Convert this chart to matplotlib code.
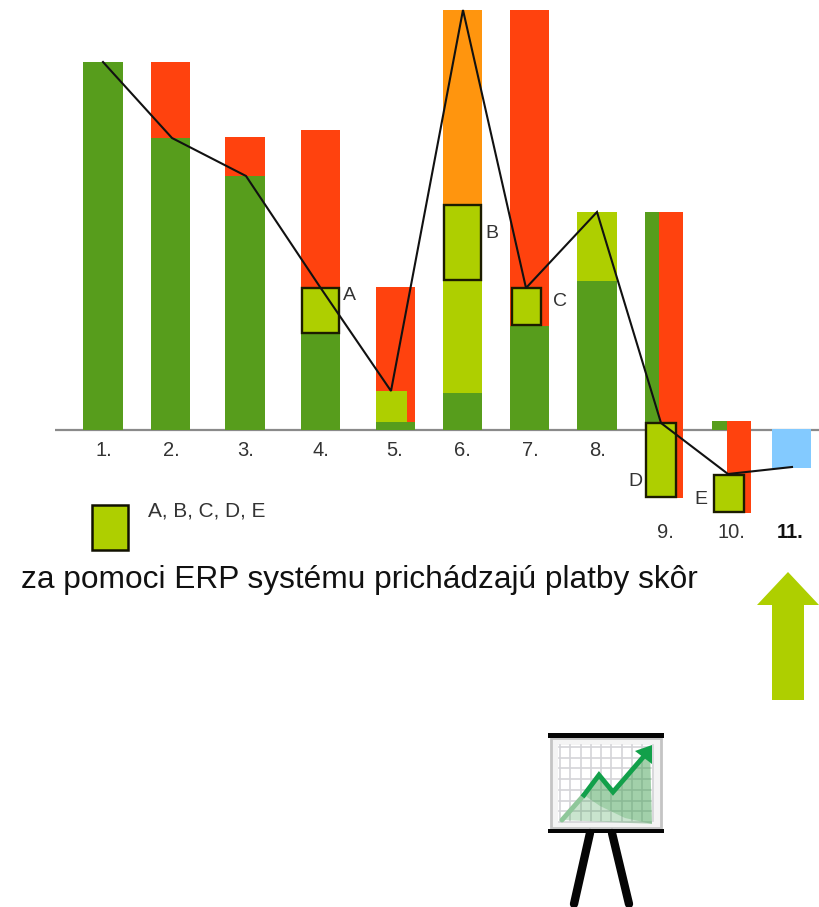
import matplotlib
matplotlib.use("Agg")
import matplotlib.pyplot as plt
from matplotlib.patches import Polygon, Rectangle
import numpy as np

plt.rcParams['font.family'] = ['Liberation Sans', 'DejaVu Sans']

DARK = '#579D1C'; LIME = '#AECF00'; RED = '#FF420E'; ORANGE = '#FF950E'; BLUE = '#83CAFF'

# Values are heights above the baseline
labels = ['1.', '2.', '3.', '4.', '5.', '6.', '7.', '8.']
centers = [103, 170.5, 245, 320.5, 395.5, 462.5, 529.5, 597]
label_x = [104, 171.5, 245.5, 320.5, 395, 462.5, 530.5, 597.5]
dark_vals = [368, 292, 254, 97, 8, 37, 104, 149]
lime_vals = [0, 0, 0, 0, 0, 112, 0, 69]
red_vals = [0, 76, 39, 203, 135, 0, 316, 0]
orange_vals = [0, 0, 0, 0, 0, 271, 0, 0]

# Narrow side-by-side bars for 9 and 10, and 11
c9_dark, c9_red_top, c9_red_bot = 218, 218, -68
c10_dark, c10_red_top, c10_red_bot = 9, 9, -83
v11 = -38
lime5 = (8, 39)

# Overlay boxes: left, right, top, bottom values
box_names = ['A', 'B', 'C', 'D', 'E']
box_left = [302, 444, 512, 646, 714]
box_right = [339, 481, 541, 676, 744]
box_top = [142, 225, 142, 7, -45]
box_bot = [97, 150, 105, -67, -82]
box_label_x = [343, 485, 553, 628, 694]
box_label_y = [135, 197, 129, -52, -69]

# Trend line
line_x = [103, 172, 246, 320, 391, 463, 526, 597, 661, 728, 792]
line_y = [368, 292, 254, 143, 39, 420, 142, 218, 7, -44, -37]

fig = plt.figure(figsize=(8.2, 9.07), dpi=100)
ax = fig.add_axes([0, 0, 1, 1])
ax.set_xlim(0, 820)
ax.set_ylim(-477, 430)
ax.axis('off')

W = 39.5
x = np.array(centers)
d = np.array(dark_vals); l = np.array(lime_vals); r = np.array(red_vals); o = np.array(orange_vals)
ax.bar(x, r, W, bottom=d + l, color=RED, zorder=2)
ax.bar(x, o, W, bottom=d + l, color=ORANGE, zorder=2)
ax.bar(x, l, W, bottom=d, color=LIME, zorder=2)
ax.bar(x, d, W, color=DARK, zorder=2)
ax.bar(391.5, lime5[1] - lime5[0], 31, bottom=lime5[0], color=LIME, zorder=3)

ax.bar(652.5, c9_dark, 15, color=DARK, zorder=2)
ax.bar(671.5, c9_red_top - c9_red_bot, 24, bottom=c9_red_bot, color=RED, zorder=2)
ax.bar(719.5, c10_dark, 15, color=DARK, zorder=2)
ax.bar(739, c10_red_top - c10_red_bot, 24, bottom=c10_red_bot, color=RED, zorder=2)
ax.bar(791.5, v11 - 1, 39.5, bottom=1, color=BLUE, zorder=2)

# Baseline
ax.plot([55, 820], [0, 0], color='#8a8a8a', lw=1.6, zorder=1, solid_capstyle='butt')

# Boxes
for n, a, b, t, u, lx, ly in zip(box_names, box_left, box_right, box_top, box_bot, box_label_x, box_label_y):
    ax.add_patch(Rectangle((a, u), b - a, t - u, fc=LIME, ec='#1c1c00', lw=1.7, zorder=4))
    ax.text(lx, ly, n, fontsize=14, color='#333333', ha='left', va='center', zorder=6)

ax.plot(line_x, line_y, color='#111111', lw=1.5, zorder=5, solid_joinstyle='miter')

# Category labels
for s, cx in zip(labels, label_x):
    ax.text(cx, -21, s, fontsize=14.5, color='#333333', ha='center', va='center')
ax.text(665.5, -103, '9.', fontsize=14.5, color='#333333', ha='center', va='center')
ax.text(731.5, -103, '10.', fontsize=14.5, color='#333333', ha='center', va='center')
ax.text(790, -103, '11.', fontsize=14.5, color='#111111', ha='center', va='center', fontweight='bold')

# Legend
ax.add_patch(Rectangle((92.5, -120), 36, 45, fc=LIME, ec='#111100', lw=1.8, zorder=4))
ax.text(148, -81, 'A, B, C, D, E', fontsize=15, color='#333333', ha='left', va='center')

# Caption
ax.text(21, -150, 'za pomoci ERP systému prichádzajú platby skôr', fontsize=22.8,
        color='#111111', ha='left', va='center')

# Up arrow
ax.add_patch(Polygon([(788, -142), (819, -175), (804, -175), (804, -270), (772, -270), (772, -175), (757, -175)],
                     closed=True, fc=LIME, ec='none', zorder=3))

# Presentation icon (pixel-row helper)
def Y(v):
    return 430 - v

ax.add_patch(Rectangle((551, Y(828)), 110, 90, fc='#f4f4f4', ec='#c4c4c4', lw=2, zorder=3))
ax.add_patch(Rectangle((558, Y(822)), 94, 77, fc='white', ec='none', zorder=3))
for gx in np.arange(560, 655, 10.3):
    ax.plot([gx, gx], [Y(745), Y(821)], color='#d4d4d8', lw=1.2, zorder=3.1)
for gy in np.arange(747, 823, 10.7):
    ax.plot([559, 651], [Y(gy), Y(gy)], color='#d4d4d8', lw=1.2, zorder=3.1)
ax.add_patch(Polygon([(562, Y(820)), (599, Y(775)), (613, Y(792)), (650, Y(750)), (652, Y(824))],
                     closed=True, fc='#3f9f4f', alpha=0.28, ec='none', zorder=3.2))
ax.add_patch(Polygon([(584, Y(795)), (599, Y(775)), (613, Y(792)), (650, Y(750)), (652, Y(824)),
                      (625, Y(818)), (600, Y(806))],
                     closed=True, fc='#3f9f4f', alpha=0.28, ec='none', zorder=3.3))
ax.plot([562, 584], [Y(820), Y(795)], color='#8fc79a', lw=3.5, zorder=3.4, solid_capstyle='round')
ax.plot([584, 599, 613, 645], [Y(795), Y(775), Y(792), Y(755)], color='#12A04A', lw=3.5, zorder=3.5,
        solid_joinstyle='miter')
ax.add_patch(Polygon([(652, Y(745)), (652, Y(764)), (635, Y(751))], closed=True, fc='#12A04A', ec='none', zorder=3.5))
ax.add_patch(Rectangle((548, Y(738)), 116, 5, fc='#050505', ec='none', zorder=4))
ax.add_patch(Rectangle((548, Y(833)), 116, 4, fc='#050505', ec='none', zorder=4))
ax.plot([590, 574], [Y(833), Y(904)], color='#050505', lw=6, zorder=3, solid_capstyle='round')
ax.plot([612, 629], [Y(833), Y(904)], color='#050505', lw=6, zorder=3, solid_capstyle='round')

fig.savefig('out.png', dpi=100, facecolor='white')
